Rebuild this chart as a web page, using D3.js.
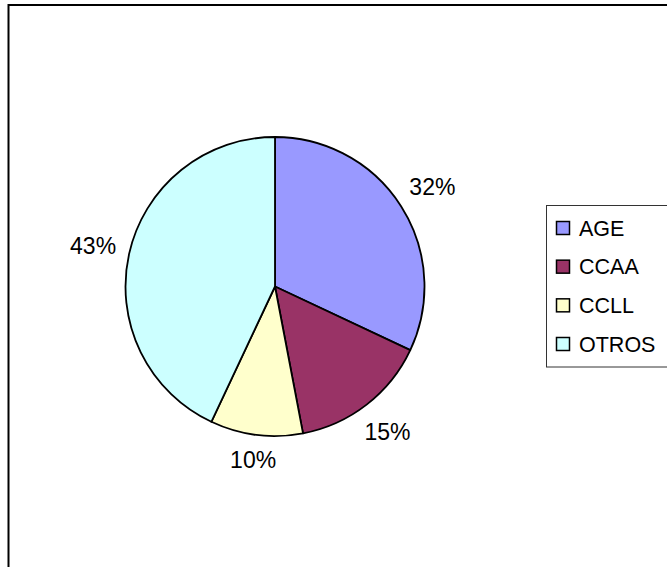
<!DOCTYPE html>
<html><head><meta charset="utf-8">
<script src="https://cdn.jsdelivr.net/npm/d3@7"></script>
<style>html,body{margin:0;padding:0;background:#fff;}svg{display:block;}</style>
</head><body>
<script>
const categories = ["AGE", "CCAA", "CCLL", "OTROS"];
const values = [32, 15, 10, 43];
const labels = ["32%", "15%", "10%", "43%"];
const colors = ["#9999FF", "#993366", "#FFFFCC", "#CCFFFF"];

const W = 667, H = 567;
const svg = d3.select("body").append("svg").attr("width", W).attr("height", H);
svg.append("rect").attr("width", W).attr("height", H).attr("fill", "#fff");
// outer frame (extends past right/bottom edge)
svg.append("rect").attr("x", 8.5).attr("y", 5).attr("width", 700).attr("height", 600)
  .attr("fill", "none").attr("stroke", "#000").attr("stroke-width", 2);

const cx = 275, cy = 286.5, r = 149.5;
const pie = d3.pie().sort(null).value(d => d)(values);
const arc = d3.arc().innerRadius(0).outerRadius(r);
const g = svg.append("g").attr("transform", `translate(${cx},${cy})`);
g.selectAll("path").data(pie).join("path")
  .attr("d", arc)
  .attr("fill", (d, i) => colors[i])
  .attr("stroke", "#000").attr("stroke-width", 1.8).attr("stroke-linejoin", "round");

const fs = 23;
g.selectAll("text").data(pie).join("text")
  .each(function(d, i) {
    const a = (d.startAngle + d.endAngle) / 2;
    const dx = Math.sin(a), dy = -Math.cos(a);
    const hw = 22, hh = 9, rr = r + 13.5;
    const dist = rr + hw * Math.abs(dx) + hh * Math.abs(dy);
    d3.select(this).attr("x", dx * dist).attr("y", dy * dist).attr("dy", "0.35em");
  })
  .attr("text-anchor", "middle")
  .attr("font-family", "Liberation Sans, Arial, sans-serif")
  .attr("font-size", fs).attr("fill", "#000")
  .text((d, i) => labels[i]);

// legend
svg.append("rect").attr("x", 546.5).attr("y", 205.5).attr("width", 200).attr("height", 161.5)
  .attr("fill", "#fff").attr("stroke", "#333").attr("stroke-width", 1);
const ly = d3.scalePoint().domain(categories).range([228, 344]);
const lg = svg.append("g");
categories.forEach((c, i) => {
  const y = ly(c);
  lg.append("rect").attr("x", 556.5).attr("y", y - 6.5).attr("width", 13).attr("height", 13)
    .attr("fill", colors[i]).attr("stroke", "#000").attr("stroke-width", 1.5);
  lg.append("text").attr("x", 579).attr("y", y).attr("dy", "0.36em")
    .attr("font-family", "Liberation Sans, Arial, sans-serif")
    .attr("font-size", 21.5).attr("fill", "#000").text(c);
});
</script>
</body></html>
